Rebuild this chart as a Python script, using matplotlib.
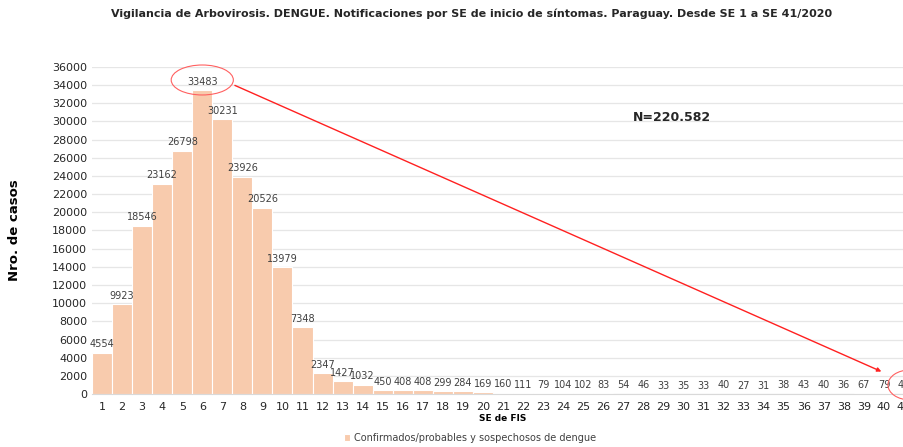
import matplotlib
matplotlib.use('Agg')
import matplotlib.pyplot as plt
from matplotlib.patches import Ellipse

# semanas epidemiologicas y casos
weeks = list(range(1, 42))
cases = [4554, 9923, 18546, 23162, 26798, 33483, 30231, 23926, 20526, 13979,
         7348, 2347, 1427, 1032, 450, 408, 408, 299, 284, 169,
         160, 111, 79, 104, 102, 83, 54, 46, 33, 35,
         33, 40, 27, 31, 38, 43, 40, 36, 67, 79, 41]
total_label = "N=220.582"
series_name = "Confirmados/probables y sospechosos de dengue"

plt.rcParams['font.family'] = ['DejaVu Sans']

fig = plt.figure(figsize=(9.04, 4.47), dpi=100)
ax = fig.add_axes([92 / 904, 1 - 394 / 447, 822 / 904, (394 - 67) / 447])

bar_color = '#F8CBAD'
bars = ax.bar(weeks, cases, width=1.0, color=bar_color, edgecolor='white',
              linewidth=0.8, label=series_name, zorder=2)

for x, v in zip(weeks, cases):
    ax.text(x, v + 350, str(v), ha='center', va='bottom', fontsize=7,
            color='#404040', zorder=3)

ax.set_xlim(0.5, 41.5)
ax.set_ylim(0, 36000)
ax.set_yticks(range(0, 36001, 2000))
ax.set_xticks(weeks)
ax.tick_params(axis='both', length=0, labelsize=8, colors='#262626')
ax.tick_params(axis='x', pad=6)
ax.grid(axis='y', color='#e6e6e6', linewidth=0.9, zorder=0)
for s in ['top', 'right', 'left']:
    ax.spines[s].set_visible(False)
ax.spines['bottom'].set_color('#d9d9d9')

ax.set_xlabel('SE de FIS', fontsize=6.5, fontweight='bold', labelpad=1)
ax.set_ylabel('Nro. de casos', fontsize=9.5, fontweight='bold', labelpad=22)

ax.text(27.5, 30400, total_label, fontsize=9, fontweight='bold',
        color='#262626', va='center')

# circulos y flecha
ax.add_patch(Ellipse((6, 34570), 3.1, 3300, fill=False, edgecolor='#FF6060',
                     linewidth=0.8, zorder=4, clip_on=False))
ax.add_patch(Ellipse((41.3, 1000), 2.2, 3300, fill=False, edgecolor='#FF6060',
                     linewidth=0.8, zorder=4, clip_on=False))
ax.annotate('', xy=(40.0, 2350), xytext=(7.5, 34100),
            arrowprops=dict(arrowstyle='-|>', color='#FF2020', lw=1.0,
                            mutation_scale=6), zorder=4)

fig.text(472 / 904, 1 - 14 / 447,
         'Vigilancia de Arbovirosis. DENGUE. Notificaciones por SE de inicio de síntomas. Paraguay. Desde SE 1 a SE 41/2020',
         ha='center', va='center', fontsize=8, fontweight='bold', color='#262626')

fig.legend(handles=[bars], labels=[series_name], loc='center',
           bbox_to_anchor=(470 / 904, 1 - 438 / 447), frameon=False,
           fontsize=7, handlelength=0.6, handleheight=0.6, handletextpad=0.4,
           labelcolor='#404040')

fig.savefig('out.png', dpi=100)
